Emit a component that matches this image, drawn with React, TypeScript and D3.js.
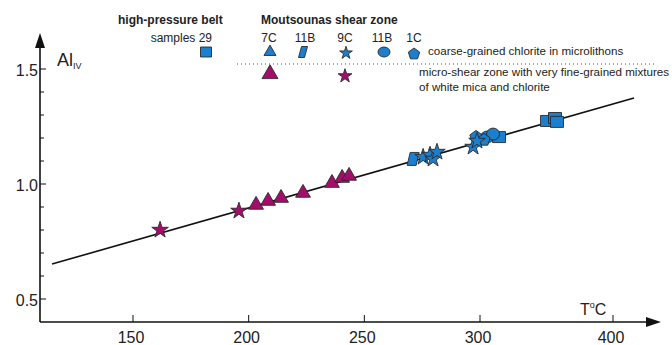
import { useEffect, useRef } from 'react'
import * as d3 from 'd3'

// x axis ticks (the original drawing spaces 300-400 tighter than 150-300)
const xTicks = [150, 200, 250, 300, 400]
const yMajor = [0.5, 1.0, 1.5]
const yMinor = [0.6, 0.7, 0.8, 0.9, 1.1, 1.2, 1.3, 1.4]

// regression line end points
const fitLine = [
  { t: 115, al: 0.652 },
  { t: 415.8, al: 1.374 }
]

// micro-shear zone (magenta)
const micaStars = [
  { t: 161.7, al: 0.8 },
  { t: 195.8, al: 0.883 }
]
const micaTriangles = [
  { t: 203.2, al: 0.909 },
  { t: 208.4, al: 0.926 },
  { t: 214.0, al: 0.939 },
  { t: 223.5, al: 0.961 },
  { t: 236.0, al: 1.004 },
  { t: 240.4, al: 1.026 },
  { t: 243.4, al: 1.035 }
]

// coarse-grained chlorite (blue)
const chlParallelograms = [{ t: 271.1, al: 1.109 }]
const chlStars = [
  { t: 275.4, al: 1.117 },
  { t: 278.4, al: 1.126 },
  { t: 279.7, al: 1.109 },
  { t: 281.4, al: 1.139 },
  { t: 297.0, al: 1.161 },
  { t: 298.7, al: 1.187 }
]
const chlPentagons = [
  { t: 298.3, al: 1.209 },
  { t: 303.0, al: 1.196 }
]
const chlCircles = [
  { t: 305.3, al: 1.204 },
  { t: 309.8, al: 1.217 }
]
const chlSquares = [
  { t: 314.3, al: 1.204 },
  { t: 350.4, al: 1.274 },
  { t: 356.4, al: 1.287 },
  { t: 357.9, al: 1.27 }
]

const BLUE = '#1b7fd0'
const MAGENTA = '#a50d6c'
const STROKE = '#2a2a2a'
const FONT = '"Liberation Sans", Arial, sans-serif'

export default function App() {
  const svgRef = useRef(null)

  useEffect(() => {
    if (!svgRef.current) return
    const svg = d3.select(svgRef.current)
    svg.selectAll('*').remove()

    const x = d3.scaleLinear().domain([150, 300, 400]).range([133, 480, 613])
    const y = d3.scaleLinear().domain([0.5, 1.5]).range([299, 69])

    const x0 = 40
    const y0 = 322

    // axes
    svg.append('line').attr('x1', x0).attr('x2', 650).attr('y1', y0).attr('y2', y0)
      .attr('stroke', '#111').attr('stroke-width', 1.6)
    svg.append('path').attr('d', `M 661 ${y0} L 646 ${y0 - 5} L 646 ${y0 + 5} Z`).attr('fill', '#111')
    svg.append('line').attr('x1', x0).attr('x2', x0).attr('y1', y0).attr('y2', 44)
      .attr('stroke', '#111').attr('stroke-width', 1.6)
    svg.append('path').attr('d', `M ${x0} 33 L ${x0 - 5} 48 L ${x0 + 5} 48 Z`).attr('fill', '#111')

    xTicks.forEach(t => {
      svg.append('line').attr('x1', x(t)).attr('x2', x(t)).attr('y1', y0).attr('y2', y0 - 7)
        .attr('stroke', '#111').attr('stroke-width', 1)
      svg.append('text').attr('x', x(t) - 2).attr('y', 343).attr('text-anchor', 'middle')
        .style('font-family', FONT).style('font-size', '16px').style('fill', '#222').text(t)
    })
    yMajor.forEach(v => {
      svg.append('line').attr('x1', x0).attr('x2', x0 + 6).attr('y1', y(v)).attr('y2', y(v))
        .attr('stroke', '#111').attr('stroke-width', 1)
      svg.append('text').attr('x', 38).attr('y', y(v) + 7).attr('text-anchor', 'end')
        .style('font-family', FONT).style('font-size', '16px').style('fill', '#222').text(d3.format('.1f')(v))
    })
    yMinor.forEach(v => {
      svg.append('line').attr('x1', x0).attr('x2', x0 + 4).attr('y1', y(v)).attr('y2', y(v))
        .attr('stroke', '#111').attr('stroke-width', 1)
    })

    // axis titles
    const al = svg.append('text').attr('x', 57).attr('y', 66)
      .style('font-family', FONT).style('font-size', '18px').style('fill', '#222')
    al.append('tspan').text('Al')
    al.append('tspan').attr('dy', 3).style('font-size', '9px').text('IV')
    const tc = svg.append('text').attr('x', 580).attr('y', 315)
      .style('font-family', FONT).style('font-size', '16px').style('fill', '#222')
    tc.append('tspan').text('T')
    tc.append('tspan').attr('dy', -7).style('font-size', '9px').text('o')
    tc.append('tspan').attr('dy', 7).text('C')

    // regression line
    const line = d3.line().x(d => x(d.t)).y(d => y(d.al))
    svg.append('path').datum(fitLine).attr('d', line)
      .attr('fill', 'none').attr('stroke', '#111').attr('stroke-width', 1.6)

    // marker shapes
    const sym = (type, size) => d3.symbol().type(type).size(size)()
    const pentagon = r => {
      const pts = d3.range(5).map(i => {
        const a = -Math.PI / 2 + (i * 2 * Math.PI) / 5
        return [r * Math.cos(a), r * Math.sin(a) + 1]
      })
      return 'M' + pts.map(p => p.join(',')).join('L') + 'Z'
    }
    const parallelogram = (w, h) =>
      `M ${-w / 2} ${h / 2} L ${-w / 2 + 3} ${-h / 2} L ${w / 2} ${-h / 2} L ${w / 2 - 3} ${h / 2} Z`
    const rect = (w, h) => `M ${-w / 2} ${-h / 2} h ${w} v ${h} h ${-w} Z`
    const ellipse = (rx, ry) =>
      `M ${-rx} 0 A ${rx} ${ry} 0 1 0 ${rx} 0 A ${rx} ${ry} 0 1 0 ${-rx} 0 Z`

    const drawMarks = (data, path, color) => {
      svg.append('g').selectAll('path').data(data).join('path')
        .attr('d', path)
        .attr('transform', d => `translate(${x(d.t)}, ${y(d.al)})`)
        .attr('fill', color).attr('stroke', STROKE).attr('stroke-width', 0.9)
    }

    drawMarks(micaStars, sym(d3.symbolStar, 85), MAGENTA)
    drawMarks(micaTriangles, sym(d3.symbolTriangle, 95), MAGENTA)
    drawMarks(chlParallelograms, parallelogram(12, 13), BLUE)
    drawMarks(chlSquares, rect(13, 11), BLUE)
    drawMarks(chlCircles, ellipse(6.5, 6), BLUE)
    drawMarks(chlPentagons, pentagon(6.5), BLUE)
    drawMarks(chlStars, sym(d3.symbolStar, 85), BLUE)

    // legend
    const legendMark = (px, py, path, color) => {
      svg.append('path').attr('d', path).attr('transform', `translate(${px}, ${py})`)
        .attr('fill', color).attr('stroke', STROKE).attr('stroke-width', 0.9)
    }
    const label = (px, py, txt, opts = {}) => {
      svg.append('text').attr('x', px).attr('y', py)
        .attr('text-anchor', opts.anchor || 'start')
        .style('font-family', FONT).style('font-size', opts.size || '12px')
        .style('font-weight', opts.bold ? 'bold' : 'normal').style('fill', '#222').text(txt)
    }
    label(118, 24, 'high-pressure belt', { bold: true })
    label(261, 24, 'Moutsounas shear zone', { bold: true })
    label(212, 42, 'samples 29', { anchor: 'end' })
    label(269, 42, '7C', { anchor: 'middle' })
    label(305, 42, '11B', { anchor: 'middle' })
    label(345, 42, '9C', { anchor: 'middle' })
    label(382, 42, '11B', { anchor: 'middle' })
    label(414, 42, '1C', { anchor: 'middle' })

    legendMark(206, 52, rect(11, 10), BLUE)
    legendMark(270, 52, sym(d3.symbolTriangle, 62), BLUE)
    legendMark(303, 52, parallelogram(9, 11), BLUE)
    legendMark(346, 53, sym(d3.symbolStar, 50), BLUE)
    legendMark(384, 52, ellipse(6, 5), BLUE)
    legendMark(414, 53, pentagon(6), BLUE)
    label(428, 55, 'coarse-grained chlorite in microlithons', { size: '11.6px' })

    svg.append('line').attr('x1', 237).attr('x2', 656).attr('y1', 64).attr('y2', 64)
      .attr('stroke', '#555').attr('stroke-width', 1).attr('stroke-dasharray', '1 3')

    legendMark(270, 74, sym(d3.symbolTriangle, 110), MAGENTA)
    legendMark(345, 76, sym(d3.symbolStar, 60), MAGENTA)
    label(419, 76, 'micro-shear zone with very fine-grained mixtures', { size: '11.6px' })
    label(419, 91, 'of white mica and chlorite', { size: '11.6px' })
  }, [])

  return (
    <svg
      ref={svgRef}
      width={672}
      height={345}
      style={{ position: 'absolute', left: 0, top: 0, background: '#fff' }}
    />
  )
}
